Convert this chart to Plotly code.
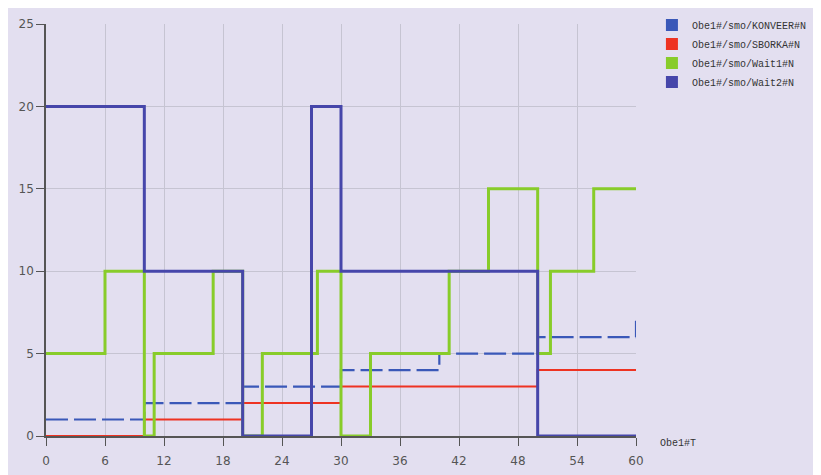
import plotly.graph_objects as go

# Data (step series)
konveer_x = [0, 10, 20, 30, 40, 50, 60]
konveer_y = [1, 2, 3, 4, 5, 6, 7]

sborka_x = [0, 10, 20, 30, 50, 60]
sborka_y = [0, 1, 2, 3, 4, 4]

wait1_x = [0, 6, 10, 11, 17, 20, 22, 27.6, 30, 33, 41, 45, 50, 51.3, 55.7, 60]
wait1_y = [5, 10, 0, 5, 10, 0, 5, 10, 0, 5, 10, 15, 5, 10, 15, 15]

wait2_x = [0, 10, 20, 27, 30, 50, 60]
wait2_y = [20, 10, 0, 20, 10, 0, 0]

names = ["Obe1#/smo/KONVEER#N", "Obe1#/smo/SBORKA#N", "Obe1#/smo/Wait1#N", "Obe1#/smo/Wait2#N"]
colors = ["#3a58b8", "#ee3322", "#88cc2a", "#4646aa"]

x_ticks = list(range(0, 61, 6))
y_ticks = list(range(0, 26, 5))

fig = go.Figure()
series = [
    (konveer_x, konveer_y, dict(color=colors[0], width=2.2, dash="22px,6px")),
    (sborka_x, sborka_y, dict(color=colors[1], width=2)),
    (wait1_x, wait1_y, dict(color=colors[2], width=3)),
    (wait2_x, wait2_y, dict(color=colors[3], width=3)),
]
for (xs, ys, ln), nm in zip(series, names):
    fig.add_trace(go.Scatter(x=xs, y=ys, mode="lines", line=dict(shape="hv", **ln),
                             name=nm, showlegend=False, hoverinfo="x+y+name"))
for nm, c in zip(names, colors):
    fig.add_trace(go.Scatter(x=[None], y=[None], mode="markers", name=nm,
                             marker=dict(symbol="square", size=12, color=c)))

bg = "#e3dff0"
fig.update_layout(
    width=821, height=475,
    margin=dict(l=38, r=193, t=16, b=47, autoexpand=False),
    paper_bgcolor=bg, plot_bgcolor=bg,
    font=dict(family="DejaVu Sans", size=12, color="#555"),
    legend=dict(x=1.027, y=1.033, xanchor="left", yanchor="top",
                font=dict(family="Liberation Mono", size=10, color="#333"),
                bgcolor="rgba(0,0,0,0)", itemwidth=30, tracegroupgap=0),
    xaxis=dict(range=[0, 60], tickvals=x_ticks, ticks="outside", ticklen=8,
               tickcolor="#555", showline=True, linecolor="#555", linewidth=1.5,
               showgrid=True, gridcolor="#c6c4d2", gridwidth=1, zeroline=False,
               automargin=False, ticklabelstandoff=5),
    yaxis=dict(range=[0, 25], tickvals=y_ticks, ticks="outside", ticklen=8,
               tickcolor="#555", showline=True, linecolor="#555", linewidth=1.5,
               showgrid=True, gridcolor="#c6c4d2", gridwidth=1, zeroline=False,
               automargin=False),
    annotations=[dict(x=1, y=0, xref="paper", yref="paper", text="Obe1#T",
                      showarrow=False, xanchor="left", yanchor="top", xshift=22, yshift=0,
                      font=dict(family="Liberation Mono", size=10, color="#333"))],
)
fig.write_html("out.html")
